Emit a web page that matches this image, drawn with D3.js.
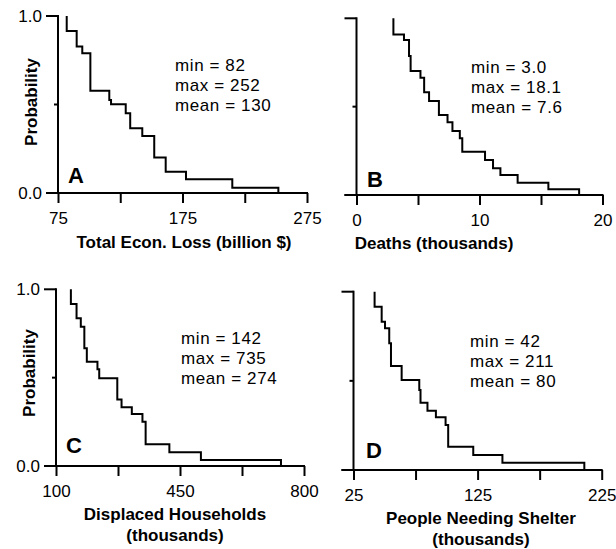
<!DOCTYPE html>
<html><head><meta charset="utf-8">
<script src="https://cdn.jsdelivr.net/npm/d3@7/dist/d3.min.js"></script>
<style>
body{margin:0;background:#fff}
text{font-family:"Liberation Sans",Arial,Helvetica,sans-serif;fill:#000}
</style>
</head><body>
<svg id="chart" width="616" height="549"></svg>
<script>
// ---- data (exceedance step curves) ----
const xA = [82, 82, 90, 94.5, 101, 116.2, 117.6, 129.4, 133, 142.7, 152.3, 161.5, 177.8, 215, 252];
const pA = [1.0, 0.915, 0.827, 0.789, 0.578, 0.525, 0.501, 0.45, 0.366, 0.322, 0.20, 0.12, 0.077, 0.03, 0];
const xB = [3.0, 3.0, 3.86, 4.27, 4.4, 5.2, 5.5, 5.9, 6.7, 7.4, 7.8, 8.4, 8.6, 10.45, 11.1, 11.7, 13.1, 15.6, 18.1];
const pB = [1.0, 0.909, 0.877, 0.787, 0.702, 0.664, 0.582, 0.532, 0.453, 0.412, 0.362, 0.321, 0.245, 0.198, 0.151, 0.113, 0.07, 0.032, 0];
const xC = [142, 142, 158, 170, 180, 187, 217, 222, 273, 285, 314, 344, 353, 420, 509, 735];
const pC = [1.0, 0.917, 0.836, 0.788, 0.666, 0.59, 0.547, 0.496, 0.377, 0.332, 0.294, 0.251, 0.123, 0.078, 0.034, 0];
const xD = [42, 42, 47.7, 50.4, 53.8, 55.2, 63.8, 78, 79, 84.6, 91.4, 99.2, 101.3, 121.5, 145, 211];
const pD = [1.0, 0.916, 0.832, 0.795, 0.711, 0.583, 0.505, 0.449, 0.377, 0.333, 0.296, 0.252, 0.131, 0.084, 0.041, 0];

const ticksA = [75, 125, 175, 225, 275], labelsA = [75, 175, 275];
const ticksB = [0, 5, 10, 15, 20], labelsB = [0, 10, 20];
const ticksC = [100, 275, 450, 625, 800], labelsC = [100, 450, 800];
const ticksD = [25, 75, 125, 175, 225], labelsD = [25, 125, 225];
const yTicks = [0, 0.5, 1.0];
const yTickLabels = ["0.0", "", "1.0"];

const statsA = ["min = 82", "max = 252", "mean = 130"];
const statsB = ["min = 3.0", "max = 18.1", "mean = 7.6"];
const statsC = ["min = 142", "max = 735", "mean = 274"];
const statsD = ["min = 42", "max = 211", "mean = 80"];

const titleA = ["Total Econ. Loss (billion $)"];
const titleB = ["Deaths (thousands)"];
const titleC = ["Displaced Households", "(thousands)"];
const titleD = ["People Needing Shelter", "(thousands)"];

// ---- layout ----
const panels = [
  {letter:"A", xs:xA, ps:pA, ticks:ticksA, labels:labelsA, stats:statsA, title:titleA,
   xr:[58,307], yr:[193,16], showY:true, statX:175, letterPos:[68,183], titleX:184, titleY:248, yTitle:[31,102]},
  {letter:"B", xs:xB, ps:pB, ticks:ticksB, labels:labelsB, stats:statsB, title:titleB,
   xr:[356.5,602.5], yr:[195,18.3], showY:false, statX:471, letterPos:[367,187], titleX:434, titleY:249},
  {letter:"C", xs:xC, ps:pC, ticks:ticksC, labels:labelsC, stats:statsC, title:titleC,
   xr:[56,304], yr:[466,289.3], showY:true, statX:181, letterPos:[66,453], titleX:175, titleY:520, yTitle:[29,373]},
  {letter:"D", xs:xD, ps:pD, ticks:ticksD, labels:labelsD, stats:statsD, title:titleD,
   xr:[353.5,601.7], yr:[470,291.7], showY:false, statX:470, letterPos:[366,458], titleX:481, titleY:524}
];

const svg = d3.select("#chart");
const AX = 2;

panels.forEach(P => {
  const dom = [P.ticks[0], P.ticks[P.ticks.length-1]];
  const x = d3.scaleLinear().domain(dom).range(P.xr);
  const y = d3.scaleLinear().domain([0,1]).range(P.yr);
  const g = svg.append("g");

  // x axis
  const xAxis = d3.axisBottom(x).tickValues(P.ticks)
      .tickFormat(d => P.labels.includes(d) ? d : "")
      .tickSize(10).tickPadding(9).tickSizeOuter(0);
  const ga = g.append("g").attr("transform", `translate(0,${y(0)})`).call(xAxis);
  ga.select(".domain").remove();
  ga.selectAll(".tick line").attr("stroke","#000").attr("stroke-width",AX);
  ga.selectAll(".tick text").attr("font-size",17).attr("fill","#000").attr("font-family",null);
  g.append("line").attr("x1", x(dom[0]) - 12).attr("x2", x(dom[1]) + 1)
    .attr("y1", y(0)).attr("y2", y(0)).attr("stroke","#000").attr("stroke-width",AX);

  // y axis
  g.append("line").attr("x1", x(dom[0])).attr("x2", x(dom[0]))
    .attr("y1", y(1) - 1).attr("y2", y(0)).attr("stroke","#000").attr("stroke-width",AX);
  yTicks.forEach((t,i) => {
    const len = t === 0.5 ? 4 : 12;
    g.append("line").attr("x1", x(dom[0]) - len).attr("x2", x(dom[0]))
      .attr("y1", y(t)).attr("y2", y(t)).attr("stroke","#000").attr("stroke-width",AX);
    if (P.showY && yTickLabels[i]) {
      g.append("text").attr("x", x(dom[0]) - 16).attr("y", y(t)).attr("dy","0.36em")
        .attr("text-anchor","end").attr("font-size",17).text(yTickLabels[i]);
    }
  });

  // step curve
  const pts = P.xs.map((v,i) => [v, P.ps[i]]);
  const line = d3.line().x(d => x(d[0])).y(d => y(d[1])).curve(d3.curveStepAfter);
  g.append("path").attr("d", line(pts)).attr("fill","none")
    .attr("stroke","#000").attr("stroke-width",2);

  // stats
  P.stats.forEach((s,i) => {
    g.append("text").attr("x", P.statX).attr("y", y(1) + 55 + i*20)
      .attr("font-size",17).attr("letter-spacing",0.6).text(s);
  });

  // panel letter
  g.append("text").attr("x", P.letterPos[0]).attr("y", P.letterPos[1])
    .attr("font-size",22).attr("font-weight","bold").text(P.letter);

  // x title
  P.title.forEach((t,i) => {
    g.append("text").attr("x", P.titleX).attr("y", P.titleY + i*21)
      .attr("text-anchor","middle").attr("font-size",17).attr("font-weight","bold").text(t);
  });

  // y title
  if (P.yTitle) {
    g.append("text").attr("transform", `translate(${P.yTitle[0]},${P.yTitle[1]}) rotate(-90)`)
      .attr("dy","0.35em").attr("text-anchor","middle").attr("font-size",17)
      .attr("font-weight","bold").text("Probability");
  }
});
</script>
</body></html>
